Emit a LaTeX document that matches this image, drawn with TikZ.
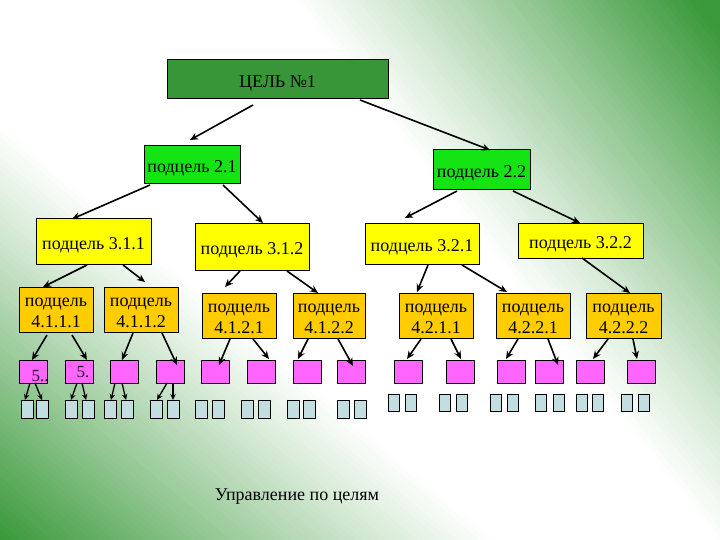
\documentclass[tikz,border=0pt]{standalone}
\usepackage{fontspec}
\setmainfont{Liberation Serif}
\usetikzlibrary{arrows.meta,calc}
\definecolor{gG}{RGB}{58,153,58}
\definecolor{rootG}{RGB}{56,150,56}
\definecolor{lvlB}{RGB}{20,228,20}
\definecolor{lvlC}{RGB}{255,255,0}
\definecolor{lvlD}{RGB}{255,204,0}
\definecolor{magbox}{RGB}{255,102,255}
\definecolor{lblue}{RGB}{195,222,225}
\newcommand\conn[7][arr]{\draw[#1] ($(#2.north west)+(#3,#4)$) -- ($(#5.north west)+(#6,#7)$);}
\newcommand\stA{\rule{0pt}{19bp}}
\newcommand\stB{\rule{0pt}{16bp}}
\begin{document}
\begin{tikzpicture}[x=1bp,y=-1bp,
  box/.style={draw=black,line width=1bp,inner sep=0pt,outer sep=0pt,anchor=north west,
    font=\fontsize{18bp}{21bp}\selectfont,text=black,align=center},
  magsq/.style={draw=black,line width=1bp,fill=magbox,inner sep=0pt,outer sep=0pt,anchor=north west,
    minimum width=28bp,minimum height=23bp},
  smsq/.style={draw=black,line width=0.8bp,fill=lblue,inner sep=0pt,outer sep=0pt,anchor=north west,
    minimum width=12bp,minimum height=18bp},
  smsqR/.style={smsq,minimum width=11bp,minimum height=17bp},
  arr/.style={-{Stealth[length=8bp,width=7bp]},line width=1.6bp,black},
  arrs/.style={-{Stealth[length=6bp,width=5.5bp]},line width=1.3bp,black},
  lbl/.style={inner sep=0pt,font=\fontsize{17bp}{18bp}\selectfont,text=black!85!magbox}
]
\useasboundingbox (0,0) rectangle (720,540);
% ---------- background ----------
\begin{scope}
\clip (0,0) rectangle (720,540);
\fill[white] (0,0) rectangle (720,540);
\begin{scope}[shift={(360,270)},rotate=-52]
\foreach \i in {0,...,72}{
  \pgfmathsetmacro\va{110+\i*5}
  \pgfmathsetmacro\vb{110+\i*5+6}
  \pgfmathtruncatemacro\p{100*(min(1,max(0,(\va+2.5-110)/320)))^1.1}
  \fill[gG!\p!white] (-600,-\va) rectangle (600,-\vb);
}
\end{scope}
\begin{scope}[shift={(360,270)},rotate=-40]
\foreach \i in {0,...,72}{
  \pgfmathsetmacro\va{115+\i*5}
  \pgfmathsetmacro\vb{115+\i*5+6}
  \pgfmathtruncatemacro\p{100*(min(1,max(0,(\va+2.5-115)/320)))^1.1}
  \fill[gG!\p!white] (-600,\va) rectangle (600,\vb);
}
\end{scope}
\end{scope}
% ---------- level 1-3 ----------
\node[box,fill=rootG,minimum width=221bp,minimum height=39bp] (root) at (167,60) {\stA ЦЕЛЬ №1};
\node[box,fill=lvlB,minimum width=96bp,minimum height=38bp] (s21) at (144,146) {\stA подцель 2.1};
\node[box,fill=lvlB,minimum width=97bp,minimum height=40bp] (s22) at (433,150) {\stA подцель 2.2};
\node[box,fill=lvlC,minimum width=115bp,minimum height=45bp] (s311) at (36,219) {\stA подцель 3.1.1};
\node[box,fill=lvlC,minimum width=114bp,minimum height=46bp] (s312) at (195,224) {\stA подцель 3.1.2};
\node[box,fill=lvlC,minimum width=114bp,minimum height=40bp] (s321) at (365,224) {\stA подцель 3.2.1};
\node[box,fill=lvlC,minimum width=125bp,minimum height=34bp] (s322) at (518,224) {\stA подцель 3.2.2};
% ---------- level 4 ----------
\node[box,fill=lvlD,minimum width=74bp,minimum height=45bp] (s4111) at (19,287) {\stB подцель\\4.1.1.1};
\node[box,fill=lvlD,minimum width=74bp,minimum height=45bp] (s4112) at (104,287) {\stB подцель\\4.1.1.2};
\node[box,fill=lvlD,minimum width=74bp,minimum height=45bp] (s4121) at (202,293) {\stB подцель\\4.1.2.1};
\node[box,fill=lvlD,minimum width=72bp,minimum height=45bp] (s4122) at (293,293) {\stB подцель\\4.1.2.2};
\node[box,fill=lvlD,minimum width=74bp,minimum height=45bp] (s4211) at (399,293) {\stB подцель\\4.2.1.1};
\node[box,fill=lvlD,minimum width=74bp,minimum height=45bp] (s4221) at (496,293) {\stB подцель\\4.2.2.1};
\node[box,fill=lvlD,minimum width=75bp,minimum height=45bp] (s4222) at (586,293) {\stB подцель\\4.2.2.2};
% ---------- magenta ----------
\foreach \n/\x in {1/19,2/65,3/110,4/156,5/201,6/247,7/293,8/337,9/394,10/446,11/497,12/535,13/576,14/627}{
  \node[magsq] (m\n) at (\x,360) {};
}
\node[lbl] (t1) at (40,376) {5..};
\node[lbl] (t2) at (83,372) {5.};
% ---------- small squares ----------
\foreach \n/\xa/\xb in {1/21/36,2/65/82,3/104/121,4/150/167,5/195/212,6/241/258,7/287/303,8/337/354}{
  \node[smsq] (b\n a) at (\xa,400) {};
  \node[smsq] (b\n b) at (\xb,400) {};
}
\foreach \n/\xa/\xb in {9/388/405,10/439/456,11/490/507,12/535/553,13/576/592,14/621/638}{
  \node[smsqR] (b\n a) at (\xa,394) {};
  \node[smsqR] (b\n b) at (\xb,394) {};
}
% ---------- title ----------
\node[inner sep=0pt,font=\fontsize{18bp}{21bp}\selectfont] (title) at (297,497) {Управление по целям};
% ---------- connectors ----------
\conn{root}{86}{45}{s21}{46}{-6}
\conn{root}{193}{40}{s22}{57}{0}
\conn{s21}{6}{39}{s311}{36}{0}
\conn{s21}{79}{39}{s312}{68}{-1}
\conn{s22}{24}{41}{s321}{40}{-6}
\conn{s22}{80}{41}{s322}{62}{-1}
\conn{s311}{51}{46}{s4111}{24}{0}
\conn{s311}{87}{46}{s4112}{41}{-5}
\conn{s312}{45}{47}{s4121}{23}{-6}
\conn{s312}{92}{47}{s4122}{25}{0}
\conn{s321}{63}{41}{s4211}{18}{-1}
\conn{s321}{97}{41}{s4221}{11}{-1}
\conn{s322}{64}{34}{s4222}{44}{0}
\conn{s4111}{28}{48}{m1}{13}{0}
\conn{s4111}{53}{48}{m2}{22}{0}
\conn{s4112}{29}{46}{m3}{12}{0}
\conn{s4112}{58}{46}{m4}{21}{5}
\conn{s4121}{28}{46}{m5}{18}{5}
\conn{s4121}{51}{46}{m6}{22}{-1}
\conn{s4122}{15}{46}{m7}{5}{-1}
\conn{s4122}{45}{46}{m8}{16}{6}
\conn{s4211}{22}{46}{m9}{13}{-1}
\conn{s4211}{52}{46}{m10}{15}{-1}
\conn{s4221}{22}{46}{m11}{9}{-1}
\conn{s4221}{52}{46}{m12}{23}{5}
\conn{s4222}{22}{46}{m13}{17}{-1}
\conn{s4222}{47}{46}{m14}{10}{-1}
\conn[arrs]{m1}{11}{23}{b1a}{4}{0}
\conn[arrs]{m1}{16}{23}{b1b}{6}{0}
\conn[arrs]{m2}{12}{23}{b2a}{6}{0}
\conn[arrs]{m2}{17}{23}{b2b}{4}{0}
\conn[arrs]{m3}{5}{23}{b3a}{7}{0}
\conn[arrs]{m3}{12}{23}{b3b}{5}{0}
\conn[arrs]{m4}{11}{23}{b4a}{7}{0}
\conn[arrs]{m4}{17}{23}{b4b}{6}{0}
\end{tikzpicture}
\end{document}
